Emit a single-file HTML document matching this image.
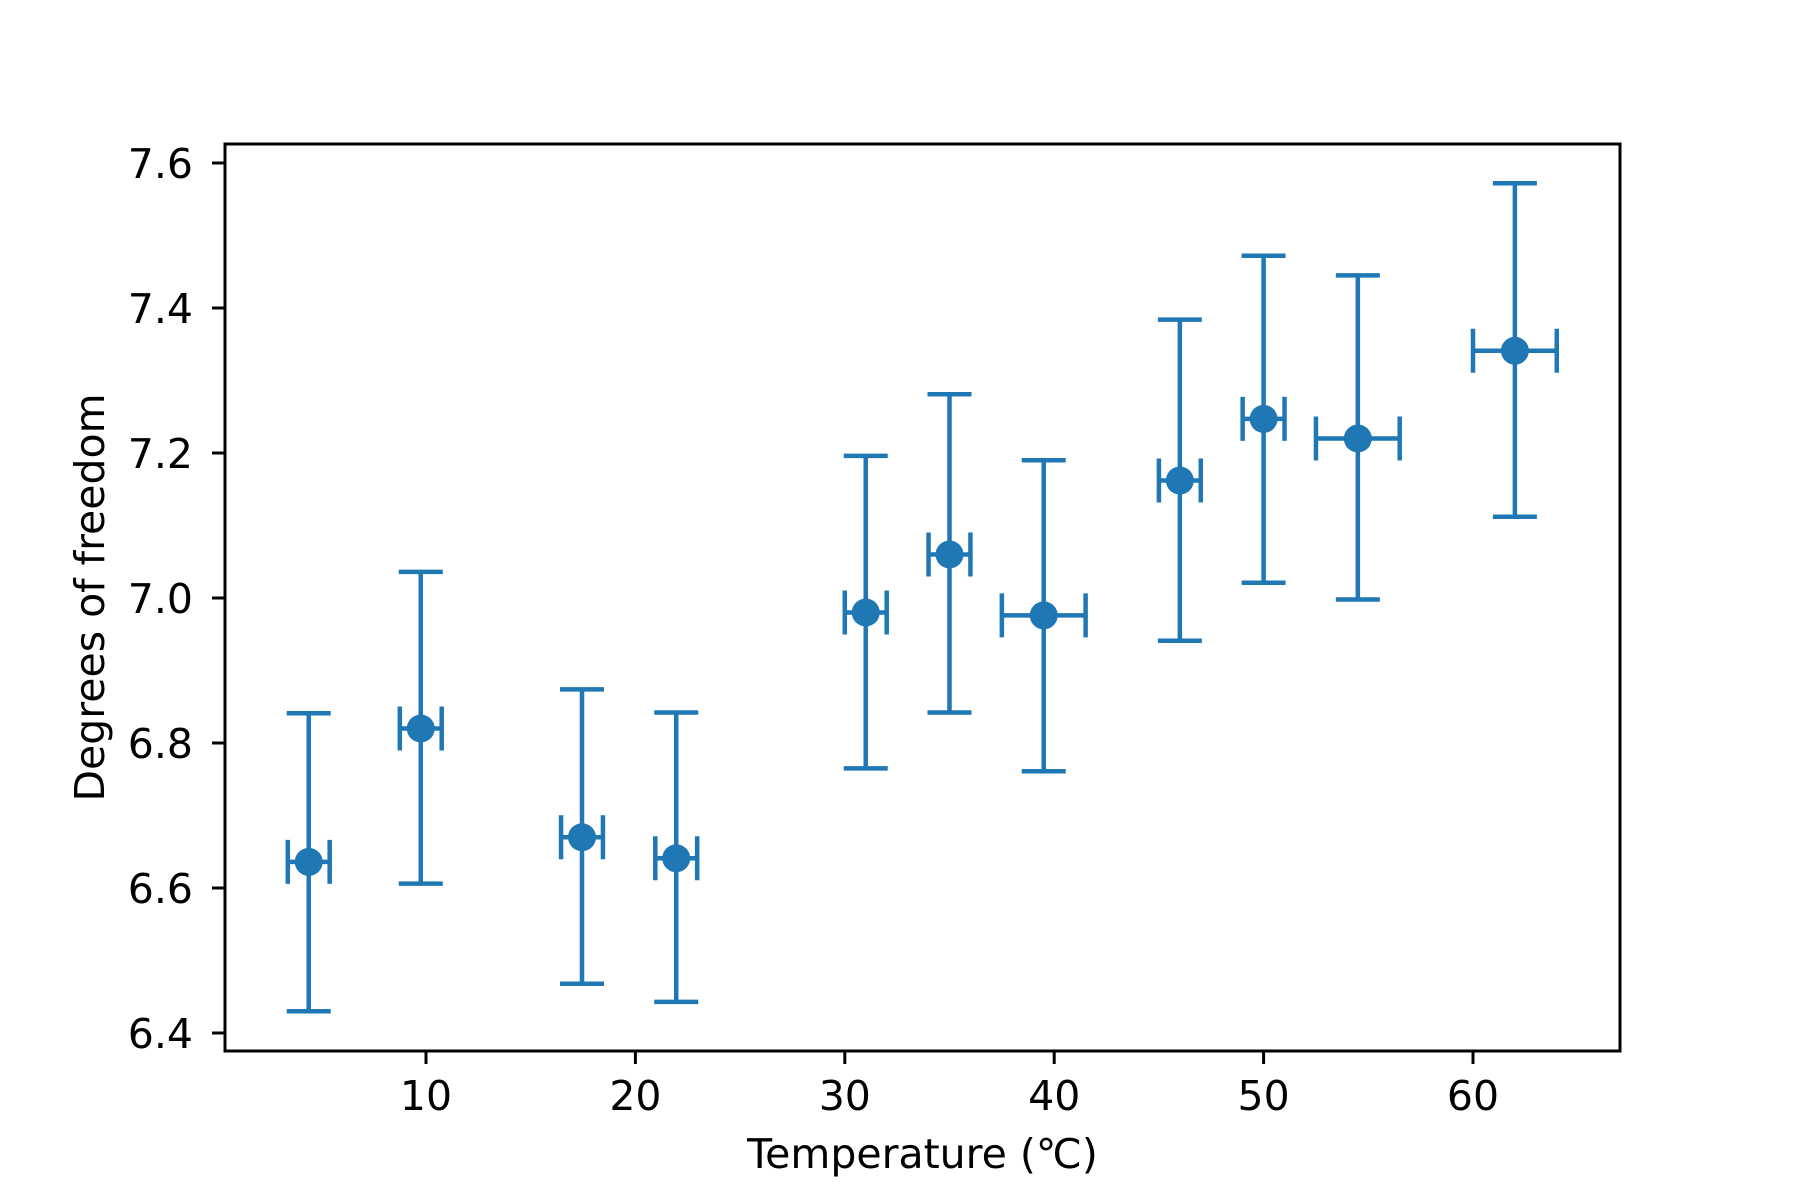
<!DOCTYPE html>
<html><head><meta charset="utf-8"><style>
html,body{margin:0;padding:0;background:#fff;}
svg{display:block;font-family:"DejaVu Sans","Liberation Sans",sans-serif;}
</style></head><body>
<svg id="chart" width="1800" height="1200" viewBox="0 0 1800 1200">
<rect x="0" y="0" width="1800" height="1200" fill="#fff"/>
<g id="marks"></g>
<g id="axes"></g>
</svg>
<script>
const temps = [4.4, 9.75, 17.45, 21.95, 31.0, 35.0, 39.5, 46.0, 50.0, 54.5, 62.0];
const dof = [6.636, 6.820, 6.670, 6.641, 6.980, 7.060, 6.976, 7.162, 7.247, 7.220, 7.341];
const dofUpper = [6.841, 7.036, 6.874, 6.842, 7.196, 7.281, 7.190, 7.384, 7.472, 7.445, 7.572];
const dofLower = [6.430, 6.606, 6.468, 6.443, 6.765, 6.842, 6.761, 6.941, 7.021, 6.998, 7.112];
const tempErr = [1, 1, 1, 1, 1, 1, 2, 1, 1, 2, 2];
const xTicks = [10, 20, 30, 40, 50, 60];
const yTicks = [6.4, 6.6, 6.8, 7.0, 7.2, 7.4, 7.6];

const NS = "http://www.w3.org/2000/svg";
const L = 225, R = 1620, T = 144, B = 1051;
function xs(t){ return 426 + (t - 10) * 20.94; }
function ys(v){ return 163 + (7.6 - v) * 725; }
const C = "#1f77b4";
function el(tag, attrs, parent){
  const e = document.createElementNS(NS, tag);
  for (const k in attrs) e.setAttribute(k, attrs[k]);
  parent.appendChild(e);
  return e;
}
const marks = document.getElementById('marks');
const axes = document.getElementById('axes');
const lw = 4.5, cap = 22;
for (let i = 0; i < temps.length; i++) {
  const g = el('g', {}, marks);
  
  
  const cx = xs(temps[i]), cy = ys(dof[i]);
  const yt = ys(dofUpper[i]), yb = ys(dofLower[i]);
  const xl = xs(temps[i] - tempErr[i]), xr = xs(temps[i] + tempErr[i]);
  el('line', {x1: cx, y1: yt, x2: cx, y2: yb, stroke: C, 'stroke-width': lw}, g);
  el('line', {x1: xl, y1: cy, x2: xr, y2: cy, stroke: C, 'stroke-width': lw}, g);
  el('line', {x1: cx - cap, y1: yt, x2: cx + cap, y2: yt, stroke: C, 'stroke-width': lw}, g);
  el('line', {x1: cx - cap, y1: yb, x2: cx + cap, y2: yb, stroke: C, 'stroke-width': lw}, g);
  el('line', {x1: xl, y1: cy - cap, x2: xl, y2: cy + cap, stroke: C, 'stroke-width': lw}, g);
  el('line', {x1: xr, y1: cy - cap, x2: xr, y2: cy + cap, stroke: C, 'stroke-width': lw}, g);
  const m = el('circle', {cx: cx, cy: cy, r: 14, fill: C}, g);
  
  
}
const frame = el('rect', {x: L, y: T, width: R - L, height: B - T, fill: 'none', stroke: '#000', 'stroke-width': 3}, axes);


xTicks.forEach(t => {
  const x = xs(t);
  el('line', {x1: x, y1: B, x2: x, y2: B + 13, stroke: '#000', 'stroke-width': 3}, axes);
  const tx = el('text', {x: x, y: 1110, 'text-anchor': 'middle', 'font-size': 41, fill: '#000'}, axes);
  tx.textContent = t;
  
  
});
yTicks.forEach(v => {
  const y = ys(v);
  el('line', {x1: L - 13, y1: y, x2: L, y2: y, stroke: '#000', 'stroke-width': 3}, axes);
  const tx = el('text', {x: 193, y: y + 15, 'text-anchor': 'end', 'font-size': 41, fill: '#000'}, axes);
  tx.textContent = v.toFixed(1);
  
  
});
const xl = el('text', {x: (L + R) / 2, y: 1168, 'text-anchor': 'middle', 'font-size': 41, fill: '#000'}, axes);
xl.textContent = 'Temperature (℃)';


const yl = el('text', {x: 0, y: 0, 'text-anchor': 'middle', 'font-size': 41, fill: '#000', transform: 'translate(104,' + ((T + B) / 2) + ') rotate(-90)'}, axes);
yl.textContent = 'Degrees of freedom';


</script>
</body></html>
